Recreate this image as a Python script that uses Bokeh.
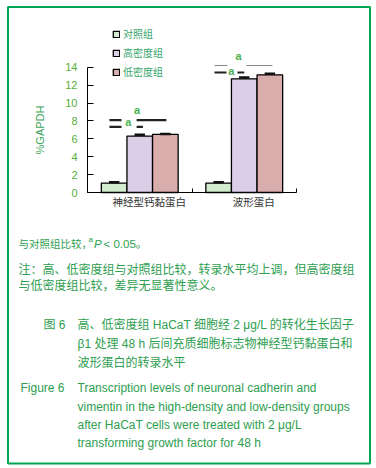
from bokeh.plotting import figure
from bokeh.models import Range1d, FixedTicker, Legend, LegendItem
from bokeh.core.properties import value
from bokeh.embed import file_html
from bokeh.resources import INLINE

# ---------------- data ----------------
categories = ["神经型钙黏蛋白", "波形蛋白"]
series_names = ["对照组", "高密度组", "低密度组"]
control = [1.05, 1.05]
high_density = [6.3, 12.7]
low_density = [6.5, 13.15]
control_err = [0.1, 0.1]
high_err = [0.15, 0.15]
low_err = [0.05, 0.12]
y_ticks = [0, 2, 4, 6, 8, 10, 12, 14]
y_max_axis = 14
sig_label = "a"

# significance marker geometry (data units)
sig_thick_x0 = [0.21, 0.21, 0.47, 0.47, 1.215, 1.435]
sig_thick_x1 = [0.325, 0.325, 0.53, 0.755, 1.33, 1.50]
sig_thick_y = [8.08, 7.33, 7.33, 8.08, 13.41, 13.41]
sig_thin_x0 = [1.215, 1.52]
sig_thin_x1 = [1.34, 1.77]
sig_thin_y = [14.19, 14.19]
sig_text_x = [0.39, 0.475, 1.375, 1.445]
sig_text_y = [7.85, 9.19, 13.56, 15.3]

colors = ["#d3ebcf", "#d9d0e8", "#d8adab"]
GREEN = "#2e9e50"
TICK_GREEN = "#58ae3a"
LEG_GREEN = "#35a66a"
CJK = "Liberation Sans, Noto Sans CJK SC"
LAT = "Liberation Sans"

W, H = 376, 468
# layout mapping (pixel placement of the plotting area)
X0PX, XS = 87.0, 104.5   # x=0 at 87px, 104.5 px per category slot
Y0PX, YS = 192.0, 8.95   # y=0 at 192px, px per unit


def dx(px):
    return (px - X0PX) / XS


def dy(py):
    return (Y0PX - py) / YS


p = figure(width=W, height=H, x_range=Range1d(dx(0), dx(W)), y_range=Range1d(dy(H), dy(0)),
           output_backend="svg", toolbar_location=None, min_border=0)
p.xgrid.visible = False
p.ygrid.visible = False
p.outline_line_color = None
p.background_fill_color = "white"
p.border_fill_color = "white"

# bars
offsets = [0.255, 0.5, 0.745]
bw = 0.245
series = [control, high_density, low_density]
errs = [control_err, high_err, low_err]
renderers = []
for k in range(3):
    xs = [i + offsets[k] for i in range(len(categories))]
    r = p.vbar(x=xs, top=series[k], width=bw, bottom=0, fill_color=colors[k],
               line_color="black", line_width=1.3)
    renderers.append(r)
    tops = [v + e for v, e in zip(series[k], errs[k])]
    p.segment(x0=xs, y0=series[k], x1=xs, y1=tops, line_color="#111", line_width=1.5)
    p.segment(x0=[x - 0.05 for x in xs], y0=tops, x1=[x + 0.05 for x in xs], y1=tops,
              line_color="#111", line_width=2.5)

# significance marks
p.segment(x0=sig_thick_x0, y0=sig_thick_y, x1=sig_thick_x1, y1=sig_thick_y,
          line_color="#222", line_width=2.2)
p.segment(x0=sig_thin_x0, y0=sig_thin_y, x1=sig_thin_x1, y1=sig_thin_y,
          line_color="#888", line_width=1)
p.text(x=sig_text_x, y=sig_text_y, text=[sig_label] * 4, text_align="center",
       text_baseline="middle", text_font=value(LAT), text_font_size="11px",
       text_font_style="bold", text_color="#4caf50")

# axes (drawn at the data origin)
ya = p.yaxis[0]
ya.fixed_location = 0
ya.ticker = FixedTicker(ticks=y_ticks)
ya.bounds = (0, y_max_axis)
ya.major_tick_in = 6
ya.major_tick_out = 0
ya.minor_tick_line_color = None
ya.major_label_standoff = 10
ya.major_label_text_color = TICK_GREEN
ya.major_label_text_font = LAT
ya.major_label_text_font_size = "11px"
ya.axis_label = "%GAPDH"
ya.axis_label_text_font = LAT
ya.axis_label_text_font_size = "11px"
ya.axis_label_text_font_style = "normal"
ya.axis_label_text_color = "#3aa55a"
ya.axis_label_standoff = 16
ya.axis_line_color = "black"

xa = p.xaxis[0]
xa.fixed_location = 0
label_pos = [i + 0.59 for i in range(len(categories))]
xa.ticker = FixedTicker(ticks=label_pos, minor_ticks=[0, 1, 2])
xa.bounds = (0, 2)
xa.major_label_overrides = {label_pos[i]: categories[i] for i in range(len(categories))}
xa.major_tick_in = 0
xa.major_tick_out = 0
xa.minor_tick_in = 4
xa.minor_tick_out = 0
xa.minor_tick_line_color = "black"
xa.major_label_standoff = 1
xa.major_label_text_font = "Noto Sans CJK SC"
xa.major_label_text_font_size = "10.5px"
xa.major_label_text_color = "#333333"
xa.axis_line_color = "black"

# legend
legend = Legend(items=[LegendItem(label=series_names[k], renderers=[renderers[k]]) for k in range(3)],
                location=(112, H - 81), padding=0, margin=0, spacing=0,
                label_height=19, glyph_height=8, glyph_width=8, label_standoff=3,
                border_line_color=None, background_fill_alpha=0,
                label_text_font="Noto Sans CJK SC", label_text_font_size="10px",
                label_text_color=LEG_GREEN)
p.add_layout(legend, "center")


# text below the chart
def cap(text, x, y, size="12px", color=GREEN, font=CJK, style="normal"):
    p.text(x=[dx(x)], y=[dy(y)], text=[text], text_font=value(font), text_font_size=size,
           text_color=color, text_font_style=style, text_baseline="middle", text_align="left")


cap("与对照组比较，", 18, 243, size="10.5px")
cap("a", 88, 238.5, size="8px", font=LAT)
cap("P", 93.5, 243, size="11.5px", font=LAT, style="italic")
cap("< 0.05。", 103, 243, size="11.5px")
cap("注：高、低密度组与对照组比较，转录水平均上调，但高密度组", 18, 269)
cap("与低密度组比较，差异无显著性意义。", 18, 285.5)
cap("图 6", 43, 324.5)
cap("高、低密度组 HaCaT 细胞经 2 μg/L 的转化生长因子", 77, 324.5)
cap("β1 处理 48 h 后间充质细胞标志物神经型钙黏蛋白和", 77, 343.5)
cap("波形蛋白的转录水平", 77, 362)
cap("Figure 6", 20, 387.5, font=LAT)
cap("Transcription levels of neuronal cadherin and", 77, 387.5, font=LAT)
cap("vimentin in the high-density and low-density groups", 77, 406.5, font=LAT)
cap("after HaCaT cells were treated with 2 μg/L", 77, 424.5, font=LAT)
cap("transforming growth factor for 48 h", 77, 442.5, font=LAT)

# green frame around the figure panel
p.quad(left=[dx(7.5)], right=[dx(369.5)], top=[dy(6.5)], bottom=[dy(463)],
       fill_alpha=0, line_color="#00a651", line_width=2)

open("out.html", "w").write(file_html(p, INLINE))
